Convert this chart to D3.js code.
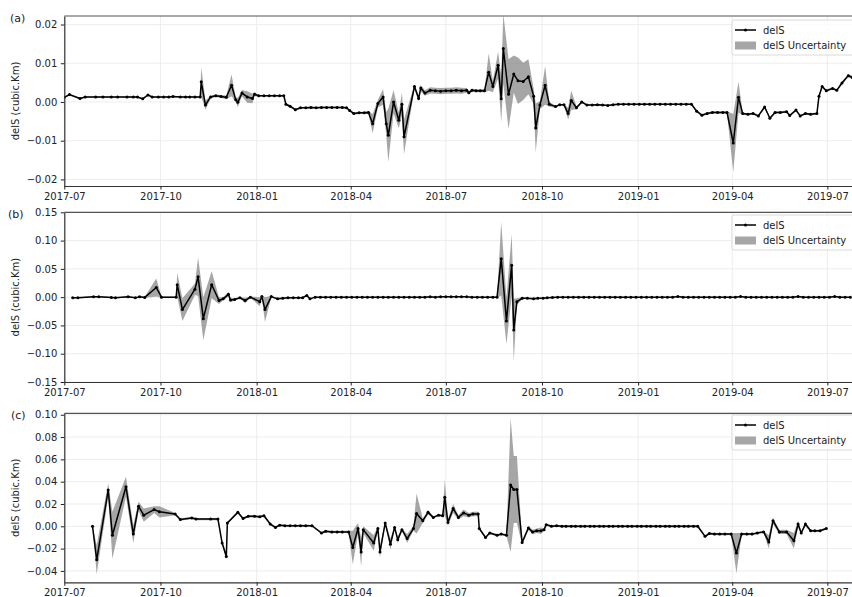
<!DOCTYPE html>
<html>
<head>
<meta charset="utf-8">
<script src="https://cdn.jsdelivr.net/npm/d3@7"></script>
<style>
  body { margin: 0; background: #fff; }
  svg { font-family: "DejaVu Sans", sans-serif; }
</style>
</head>
<body>
<svg id="chart" width="852" height="597"></svg>
<script>
// all dates are days counted from this start date
const startDay = "2017-07-01";
const endDay = "2019-07-24T14:00";

// rows: [day, delS, uncertainty]
const dataA = [
  [0,.0012,.0002],[5,.0019,.0003],[15,.0009,.0002],[20,.0013,.0002],[30,.0013,.0002],[37,.0013,.0002],
  [45,.0013,.0002],[51,.0013,.0002],[60,.0013,.0002],[66,.0013,.0002],[70,.0013,.0002],[75,.0008,.0002],
  [80,.0018,.0002],[84,.0013,.0002],[90,.0013,.0002],[95,.0013,.0002],[100,.0013,.0002],[104,.0014,.0002],
  [111,.0013,.0002],[116,.0013,.0002],[120,.0013,.0002],[125,.0013,.0002],[130,.0013,.0002],
  [131,.0052,.0038],[135,-.0008,.0012],[140,.0013,.0004],[145,.0016,.0003],[150,.0014,.0004],[155,.0012,.0005],
  [160,.0043,.0028],[164,.0006,.0006],[166,-.0001,.0012],[170,.0023,.0008],[175,.0013,.0015],[180,.0009,.0012],
  [182,.0020,.0005],[186,.0016,.0002],[191,.0016,.0002],[196,.0016,.0002],[201,.0016,.0002],[206,.0016,.0002],
  [210,.0016,.0002],[212,-.0006,.0003],[216,-.0011,.0003],[221,-.0020,.0003],[226,-.0015,.0002],[231,-.0015,.0002],
  [236,-.0014,.0002],[241,-.0015,.0002],[246,-.0014,.0002],[251,-.0014,.0002],[256,-.0014,.0002],[261,-.0014,.0002],
  [266,-.0014,.0002],[270,-.0015,.0002],[273,-.0022,.0003],[277,-.0030,.0003],[282,-.0028,.0003],[287,-.0028,.0003],
  [291,-.0027,.0004],[295,-.0056,.0025],[300,-.0004,.0010],[305,.0013,.0020],[308,-.0056,.0030],[310,-.0086,.0069],
  [315,.0000,.0030],[320,-.0047,.0020],[323,-.0006,.0030],[325,-.0090,.0045],[335,.0040,.0005],[339,.0009,.0008],
  [341,.0036,.0008],[345,.0023,.0007],[350,.0030,.0008],[355,.0029,.0008],[360,.0028,.0008],[365,.0029,.0008],
  [370,.0029,.0008],[375,.0030,.0008],[380,.0029,.0008],[385,.0030,.0006],[387,.0024,.0004],[390,.0030,.0004],
  [394,.0029,.0004],[398,.0029,.0004],[402,.0029,.0004],[406,.0077,.0048],[410,.0040,.0015],[415,.0095,.0035],
  [418,.0008,.0060],[420,.0138,.0090],[425,.0020,.0090],[430,.0072,.0048],[434,.0055,.0060],[439,.0053,.0048],
  [444,.0065,.0045],[449,.0015,.0020],[451,-.0067,.0063],[455,-.0008,.0010],[460,.0043,.0050],[464,-.0006,.0006],
  [470,-.0012,.0003],[474,-.0007,.0002],[478,-.0007,.0002],[482,-.0030,.0015],[485,.0004,.0025],[490,-.0015,.0004],
  [495,.0000,.0003],[500,-.0008,.0002],[505,-.0008,.0002],[510,-.0007,.0002],[515,-.0008,.0002],[520,-.0009,.0002],
  [525,-.0007,.0002],[530,-.0006,.0002],[535,-.0006,.0002],[540,-.0006,.0002],[545,-.0006,.0002],[550,-.0006,.0002],
  [555,-.0006,.0002],[560,-.0006,.0002],[565,-.0006,.0002],[570,-.0006,.0002],[575,-.0006,.0002],[580,-.0006,.0002],
  [585,-.0006,.0002],[590,-.0006,.0002],[595,-.0006,.0002],[600,-.0006,.0002],[605,-.0024,.0003],[610,-.0034,.0003],
  [615,-.0030,.0003],[620,-.0027,.0003],[625,-.0027,.0003],[630,-.0027,.0003],[634,-.0027,.0003],[640,-.0106,.0075],
  [645,.0012,.0040],[649,-.0030,.0003],[654,-.0032,.0003],[659,-.0030,.0003],[664,-.0036,.0003],[670,-.0013,.0003],
  [675,-.0042,.0003],[680,-.0027,.0003],[685,-.0027,.0003],[691,-.0025,.0003],[694,-.0035,.0003],[700,-.0021,.0003],
  [704,-.0036,.0003],[709,-.0030,.0003],[714,-.0032,.0003],[720,-.0030,.0003],[722,.0015,.0003],[725,.0040,.0003],
  [729,.0029,.0003],[735,.0035,.0003],[739,.0030,.0003],[744,.0049,.0004],[750,.0068,.0004],[754,.0063,.0004]
];

const dataB = [
  [8,-.001,.001],[13,-.001,.001],[28,.0005,.001],[33,.0005,.001],[45,-.0005,.001],[49,-.001,.001],
  [61,.0005,.001],[68,-.001,.001],[72,.0005,.001],[77,-.0005,.001],[88,.017,.016],[93,.000,.001],
  [107,.000,.001],[108,.022,.021],[113,-.022,.020],[125,.014,.010],[128,.036,.034],[133,-.038,.038],
  [141,.022,.024],[148,-.006,.006],[152,-.003,.003],[157,.005,.004],[159,-.005,.004],[163,-.004,.002],
  [168,-.001,.001],[173,-.006,.005],[178,.000,.001],[187,-.008,.008],[189,.001,.002],[192,-.022,.022],
  [198,.001,.001],[204,-.003,.002],[209,-.002,.001],[214,-.001,.001],[219,-.001,.001],[224,-.001,.001],
  [228,-.001,.001],[232,.003,.001],[235,-.003,.001],[240,0,.0008],[245,0,.0008],[250,0,.0008],
  [255,0,.0008],[260,0,.0008],[265,0,.0008],[270,0,.0008],[275,0,.0008],[280,0,.0008],[285,0,.0008],
  [290,0,.0008],[295,0,.0008],[300,0,.0008],[305,0,.0008],[310,0,.0008],[315,0,.0008],[320,0,.0008],
  [325,0,.0008],[330,0,.0008],[335,0,.0008],[340,0,.0008],[345,0,.0008],[350,.0005,.0008],[355,0,.0008],
  [360,.0005,.0008],[365,.0005,.0008],[370,.0005,.0008],[375,.0005,.0008],[380,.0005,.0008],[385,.0005,.0008],
  [390,0,.0008],[395,0,.0008],[400,0,.0008],[405,0,.0008],[410,0,.0008],[414,.000,.001],
  [418,.068,.065],[423,-.042,.041],[428,.0565,.055],[430,-.058,.055],[433,-.008,.006],[438,-.002,.002],
  [443,-.002,.001],[449,-.003,.002],[453,-.002,.001],[458,-.002,.001],[462,-.001,.001],[467,-.0005,.001],
  [472,0,.0008],[477,0,.0008],[482,0,.0008],[487,0,.0008],[492,0,.0008],[497,0,.0008],[502,0,.0008],
  [507,0,.0008],[512,0,.0008],[517,0,.0008],[522,0,.0008],[527,0,.0008],[532,0,.0008],[537,0,.0008],
  [542,0,.0008],[547,0,.0008],[552,0,.0008],[557,0,.0008],[562,0,.0008],[567,0,.0008],[572,0,.0008],
  [577,0,.0008],[582,0,.0008],[587,.001,.0008],[592,0,.0008],[597,0,.0008],[602,0,.0008],[607,0,.0008],
  [612,0,.0008],[617,0,.0008],[622,0,.0008],[627,0,.0008],[632,0,.0008],[637,0,.0008],[642,0,.0008],
  [647,.001,.0008],[652,0,.0008],[657,0,.0008],[662,0,.0008],[667,0,.0008],[672,0,.0008],[677,0,.0008],
  [682,0,.0008],[687,0,.0008],[692,0,.0008],[697,0,.0008],[702,.001,.0008],[707,0,.0008],[712,0,.0008],
  [717,0,.0008],[722,0,.0008],[727,0,.0008],[732,0,.0008],[737,.001,.0008],[742,0,.0008],[747,0,.0008],
  [752,0,.0008]
];

const dataC = [
  [27,.000,.000],[31,-.030,.013],[42,.0325,.006],[46,-.008,.021],[59,.0355,.009],[66,-.007,.008],
  [71,.018,.004],[76,.010,.006],[86,.015,.003],[91,.013,.005],[106,.011,.001],[111,.006,.001],
  [122,.0075,.001],[126,.0065,.001],[140,.0065,.001],[147,.0065,.001],[151,-.015,.001],[155,-.027,.003],
  [156,.003,.001],[166,.0125,.001],[171,.007,.001],[176,.009,.001],[182,.009,.001],[187,.0085,.001],
  [191,.0095,.001],[197,.002,.001],[202,-.001,.001],[206,.001,.001],[211,.0005,.001],[216,.0005,.001],
  [221,.0005,.001],[226,.0005,.001],[231,.0005,.001],[237,.0005,.001],[246,-.006,.001],[250,-.0045,.001],
  [256,-.005,.001],[261,-.005,.001],[266,-.005,.001],[272,-.005,.001],[276,-.019,.015],[281,-.002,.005],
  [284,-.023,.013],[286,-.003,.003],[296,-.015,.007],[300,-.002,.002],[302,-.023,.005],[307,.003,.001],
  [312,-.016,.005],[316,-.001,.001],[319,-.012,.003],[323,-.003,.001],[328,-.011,.004],[334,-.002,.002],
  [337,.0115,.018],[343,.005,.002],[348,.0125,.002],[353,.008,.001],[358,.010,.001],[362,.0095,.001],
  [364,.026,.016],[367,.0035,.003],[372,.016,.004],[377,.008,.002],[382,.012,.003],[387,.010,.002],
  [391,.011,.002],[396,.011,.002],[397,-.002,.001],[403,-.010,.001],[407,-.006,.001],[414,-.008,.001],
  [418,-.007,.001],[423,-.008,.001],[427,.037,.060],[430,.033,.030],[433,.033,.030],[438,-.0145,.002],
  [444,-.0015,.002],[448,-.005,.002],[452,-.004,.002],[456,-.004,.003],[459,-.003,.001],[461,.0015,.001],
  [466,.000,.001],[471,.0005,.001],[476,0,.001],[480,0,.001],[485,0,.001],[489,0,.001],[494,0,.001],
  [498,0,.001],[503,0,.001],[507,0,.001],[512,0,.001],[516,0,.001],[521,0,.001],[525,0,.001],
  [530,0,.001],[534,0,.001],[539,0,.001],[543,0,.001],[548,0,.001],[552,0,.001],[557,0,.001],
  [561,0,.001],[566,0,.001],[570,0,.001],[575,0,.001],[579,0,.001],[584,0,.001],[588,0,.001],
  [593,0,.001],[597,0,.001],[602,0,.001],[606,0,.001],[613,-.009,.001],[617,-.0065,.001],[622,-.007,.001],
  [627,-.007,.001],[632,-.007,.001],[638,-.007,.001],[643,-.024,.018],[648,-.007,.001],[653,-.007,.001],
  [658,-.007,.001],[663,-.006,.001],[669,-.005,.001],[674,-.014,.006],[678,.005,.003],[684,-.005,.002],
  [691,-.005,.002],[698,-.013,.007],[702,.002,.003],[705,-.006,.001],[709,.002,.002],[714,-.004,.001],
  [718,-.004,.001],[723,-.004,.001],[729,-.002,.001]
];

const ticksA = [-0.02, -0.01, 0, 0.01, 0.02];
const ticksB = [-0.15, -0.10, -0.05, 0, 0.05, 0.10, 0.15];
const ticksC = [-0.04, -0.02, 0, 0.02, 0.04, 0.06, 0.08, 0.10];
const panelLabels = ["(a)", "(b)", "(c)"];
const legendLabels = ["delS", "delS Uncertainty"];
const yTitle = "delS (cubic.Km)";

const svg = d3.select("#chart");
const left = 64.3, right = 852;
const start = new Date(startDay + "T00:00Z");
const toDate = d => d3.utcDay.offset(start, d);

const x = d3.scaleUtc()
  .domain([start, new Date(endDay + "Z")])
  .range([left, right]);
const xTickVals = x.ticks(d3.utcMonth.every(3));

const panels = [
  { label: panelLabels[0], rows: dataA, ticks: ticksA, domain: [-0.0217, 0.0222], top: 16, bottom: 186, legTop: 20, labX: 10 },
  { label: panelLabels[1], rows: dataB, ticks: ticksB, domain: [-0.15, 0.15], top: 212.3, bottom: 382, legTop: 215, labX: 8 },
  { label: panelLabels[2], rows: dataC, ticks: ticksC, domain: [-0.0502, 0.1013], top: 413.3, bottom: 582.3, legTop: 415, labX: 11 }
];

const defs = svg.append("defs");

panels.forEach((p, i) => {
  const y = d3.scaleLinear().domain(p.domain).range([p.bottom, p.top]);
  const g = svg.append("g");

  defs.append("clipPath").attr("id", "clip" + i)
    .append("rect")
    .attr("x", left).attr("y", p.top)
    .attr("width", right - left).attr("height", p.bottom - p.top);

  // grid
  g.selectAll("line.gx").data(xTickVals).join("line")
    .attr("class", "gx")
    .attr("x1", d => x(d)).attr("x2", d => x(d))
    .attr("y1", p.top).attr("y2", p.bottom)
    .attr("stroke", "#e8e8e8").attr("stroke-width", 0.8);
  g.selectAll("line.gy").data(p.ticks).join("line")
    .attr("class", "gy")
    .attr("x1", left).attr("x2", right)
    .attr("y1", d => y(d)).attr("y2", d => y(d))
    .attr("stroke", "#e8e8e8").attr("stroke-width", 0.8);

  const plot = g.append("g").attr("clip-path", `url(#clip${i})`);

  // uncertainty band
  const band = d3.area()
    .x(d => x(toDate(d[0])))
    .y0(d => y(d[1] - d[2]))
    .y1(d => y(d[1] + d[2]));
  plot.append("path").datum(p.rows)
    .attr("d", band)
    .attr("fill", "gray").attr("fill-opacity", 0.7);

  // delS line + markers
  const line = d3.line().x(d => x(toDate(d[0]))).y(d => y(d[1]));
  plot.append("path").datum(p.rows)
    .attr("d", line)
    .attr("fill", "none").attr("stroke", "#000").attr("stroke-width", 1.5)
    .attr("stroke-linejoin", "round");
  plot.selectAll("circle").data(p.rows).join("circle")
    .attr("cx", d => x(toDate(d[0])))
    .attr("cy", d => y(d[1]))
    .attr("r", 1.5).attr("fill", "#000");

  // axes
  const xAxis = d3.axisBottom(x).tickValues(xTickVals)
    .tickFormat(d3.utcFormat("%Y-%m")).tickSize(3.5).tickPadding(3.5).tickSizeOuter(0);
  const gx = g.append("g").attr("transform", `translate(0,${p.bottom})`).call(xAxis);
  const yAxis = d3.axisLeft(y).tickValues(p.ticks)
    .tickFormat(d3.format(".2f")).tickSize(3.5).tickPadding(3.5).tickSizeOuter(0);
  const gy = g.append("g").attr("transform", `translate(${left},0)`).call(yAxis);
  [gx, gy].forEach(a => {
    a.attr("font-family", null).attr("font-size", 10).attr("color", "#222");
    a.select(".domain").attr("stroke", "#333").attr("stroke-width", 1.2);
  });

  // top spine
  g.append("line")
    .attr("x1", left).attr("x2", right)
    .attr("y1", p.top).attr("y2", p.top)
    .attr("stroke", "#555").attr("stroke-width", 1.2);

  // y title
  g.append("text")
    .attr("transform", `translate(15,${(p.top + p.bottom) / 2}) rotate(-90)`)
    .attr("text-anchor", "middle").attr("dominant-baseline", "central")
    .attr("font-size", 10).attr("fill", "#222")
    .text(yTitle);

  // panel label
  g.append("text")
    .attr("x", p.labX).attr("y", p.top + 2)
    .attr("dominant-baseline", "central")
    .attr("font-size", 11).attr("fill", "#222")
    .text(p.label);

  // legend
  const lg = g.append("g").attr("transform", `translate(732,${p.legTop})`);
  lg.append("rect")
    .attr("width", 125).attr("height", 35).attr("rx", 2)
    .attr("fill", "#fff").attr("fill-opacity", 0.8)
    .attr("stroke", "#d0d0d0").attr("stroke-width", 0.8);
  lg.append("line")
    .attr("x1", 3).attr("x2", 24).attr("y1", 10).attr("y2", 10)
    .attr("stroke", "#000").attr("stroke-width", 1.5);
  lg.append("circle").attr("cx", 13.5).attr("cy", 10).attr("r", 1.5).attr("fill", "#000");
  lg.append("rect")
    .attr("x", 3).attr("y", 21.5).attr("width", 21).attr("height", 8)
    .attr("fill", "gray").attr("fill-opacity", 0.7);
  lg.selectAll("text").data(legendLabels).join("text")
    .attr("x", 31).attr("y", (d, k) => k ? 25.5 : 10)
    .attr("dominant-baseline", "central")
    .attr("font-size", 10).attr("fill", "#222")
    .text(d => d);
});
</script>
</body>
</html>
